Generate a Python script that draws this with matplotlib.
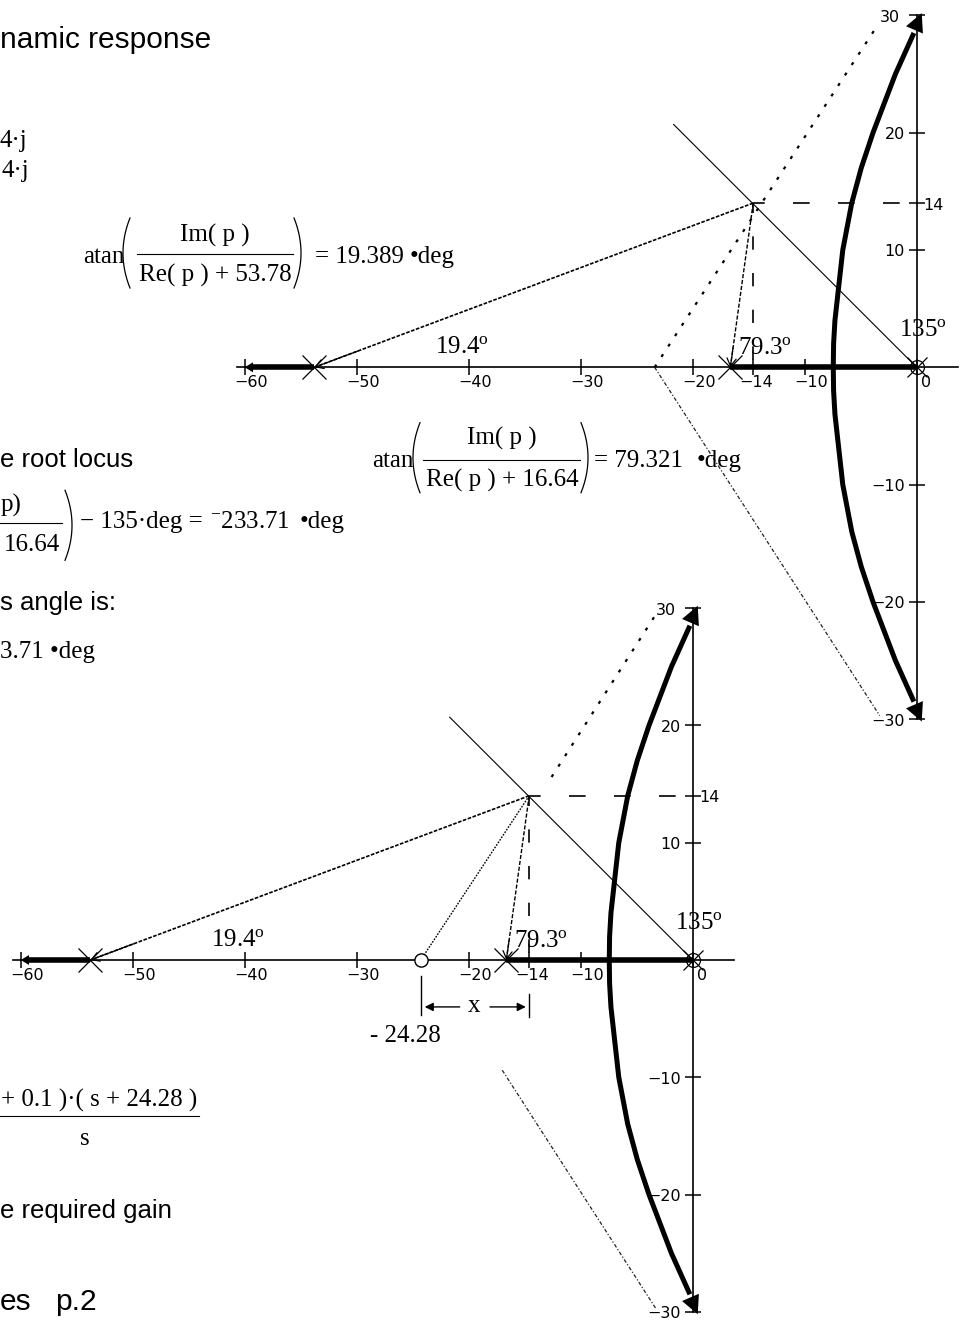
import numpy as np
import matplotlib
matplotlib.use("Agg")
import matplotlib.pyplot as plt
from matplotlib.lines import Line2D
from matplotlib.transforms import offset_copy

plt.rcParams['mathtext.fontset'] = 'custom'
plt.rcParams['mathtext.rm'] = 'Liberation Serif'
plt.rcParams['mathtext.it'] = 'Liberation Serif:italic'
plt.rcParams['mathtext.bf'] = 'Liberation Serif:bold'

W, H, DPI = 967, 1320, 100

# ---------------- data ----------------
open_loop_poles = [-53.78, -16.64, 0.0]
compensator_zero = -24.28
test_point = (-14.6, 14.0)          # p = -14 + 14j, as drawn
branch_im = [0.0, 2.0, 4.0, 7.0, 10.0, 14.0, 17.0, 20.0, 25.0, 28.5, 30.2]
branch_re = [-7.45, -7.42, -7.3, -6.95, -6.6, -5.8, -4.95, -3.9, -1.9, -0.25, 0.45]
left_axis_branch = [-53.78, -59.4]
right_axis_branch = [-16.64, 0.0]
asym_vertex = [-23.4, 0.0]
asym_upper_end = [-3.4, 29.3]
asym_lower_end = [-3.3, -29.7]
lower_plot_upper_asym_start = [-12.6, 15.6]
lower_plot_lower_asym_start = [-17.0, -9.4]
line135_far_end = [-21.7, 20.7]
x_ticks = [-60, -50, -40, -30, -20, -10, 0]
x_tick_labels = ['\u221260', '\u221250', '\u221240', '\u221230', '\u221220', '\u221210', '0']
y_ticks = [30, 20, 10, -10, -20, -30]
y_tick_labels = ['30', '20', '10', '\u221210', '\u221220', '\u221230']
marked_re_label = '\u221214'
marked_im_label = '14'
angle_labels = ['19.4', '79.3', '135']
angle_label_pos = [(-43.0, 1.2), (-16.0, 1.15), (-1.62, 2.65)]

SERIF = 'Liberation Serif'
SANS = 'Liberation Sans'
K = 'black'
TICKFONT = 11.5

fig = plt.figure(figsize=(W / DPI, H / DPI), dpi=DPI)
fig.patch.set_facecolor('white')

SX, SY = 11.2, 11.73   # pixels per unit (real, imaginary)


def locus_axes(ox, oy, xlim, ylim):
    l = ox + xlim[0] * SX
    r = ox + xlim[1] * SX
    t = oy - ylim[1] * SY
    b = oy - ylim[0] * SY
    ax = fig.add_axes([l / W, 1 - b / H, (r - l) / W, (b - t) / H])
    ax.set_xlim(*xlim)
    ax.set_ylim(*ylim)
    ax.set_axis_off()
    ax.patch.set_visible(False)
    return ax


def off(ax, dx, dy):
    return offset_copy(ax.transData, fig=fig, x=dx, y=dy, units='dots')


def small_head(ax, tip, tail, scale=11):
    ax.annotate('', xy=tip, xytext=tail,
                arrowprops=dict(arrowstyle='->,head_length=0.5,head_width=0.3',
                                color=K, lw=0.9, mutation_scale=scale,
                                shrinkA=0, shrinkB=0))


def draw_plot(ax, lower):
    pr, pi = test_point
    # axes lines
    ax.plot([-60.7, 3.7], [0, 0], color=K, lw=1.2, zorder=2)
    ax.plot([0, 0], [-30.0, 30.0], color=K, lw=1.2, zorder=2)
    # tick marks
    xt = x_ticks + [pr]
    ax.plot(xt, [0] * len(xt), ls='none', marker='|', ms=11, mew=1.1, color=K)
    yt = y_ticks + [pi]
    ax.plot([0] * len(yt), yt, ls='none', marker='_', ms=12, mew=1.1, color=K)
    # tick labels
    for t, lab in zip(x_ticks, x_tick_labels):
        dx = 9 if t == 0 else 6
        ax.text(t, 0, lab, transform=off(ax, dx, -8), ha='center', va='top',
                fontsize=TICKFONT, family='DejaVu Sans')
    ax.text(pr, 0, marked_re_label, transform=off(ax, 3, -8), ha='center', va='top',
            fontsize=TICKFONT, family='DejaVu Sans')
    for t, lab in zip(y_ticks, y_tick_labels):
        dx = -17 if t == 30 else -12
        ax.text(0, t, lab, transform=off(ax, dx, -2), ha='right', va='center',
                fontsize=TICKFONT, family='DejaVu Sans')
    ax.text(0, pi, marked_im_label, transform=off(ax, 7, -2), ha='left', va='center',
            fontsize=TICKFONT, family='DejaVu Sans')

    # root locus: real-axis parts
    ax.plot(left_axis_branch, [0, 0], color=K, lw=4, solid_capstyle='butt', zorder=3)
    ax.plot(right_axis_branch, [0, 0], color=K, lw=4, solid_capstyle='butt', zorder=3)
    ax.annotate('', xy=(-60.0, 0), xytext=(-58.0, 0),
                arrowprops=dict(arrowstyle='-|>,head_length=0.5,head_width=0.3',
                                color=K, lw=0, mutation_scale=12, shrinkA=0, shrinkB=0))
    # complex branches
    re = np.array(branch_re)
    im = np.array(branch_im)
    for s in (1, -1):
        ax.plot(re[:-1], s * im[:-1], color=K, lw=3.6, solid_capstyle='butt',
                solid_joinstyle='round', zorder=3)
        ax.annotate('', xy=(re[-1], s * im[-1]), xytext=(re[-3], s * im[-3]),
                    arrowprops=dict(arrowstyle='-|>,head_length=0.6,head_width=0.3',
                                    color=K, lw=0, mutation_scale=22,
                                    shrinkA=0, shrinkB=0), zorder=3)

    # asymptote-like dotted lines
    vx, vy = asym_vertex
    if not lower:
        ax.plot([vx, asym_upper_end[0]], [vy, asym_upper_end[1]], color=K, lw=1.6,
                ls=(0, (1.4, 4.2)))
        ax.plot([vx, asym_lower_end[0]], [vy, asym_lower_end[1]], color='#222222', lw=0.9,
                ls=(0, (3, 1.6, 1, 1.6)))
    else:
        ax.plot([lower_plot_upper_asym_start[0], asym_upper_end[0]],
                [lower_plot_upper_asym_start[1], asym_upper_end[1]], color=K, lw=1.6,
                ls=(0, (1.4, 4.2)))
        ax.plot([lower_plot_lower_asym_start[0], asym_lower_end[0]],
                [lower_plot_lower_asym_start[1], asym_lower_end[1]], color='#222222', lw=0.9,
                ls=(0, (3, 1.6, 1, 1.6)))

    # 135 degree line
    ax.plot([line135_far_end[0], 0], [line135_far_end[1], 0], color=K, lw=0.8)

    # lines from p to the poles (and zero)
    p1, p2 = open_loop_poles[0], open_loop_poles[1]
    ax.plot([pr, p1], [pi, 0], color=K, lw=1.2, ls=(0, (2.2, 0.9)))
    ax.plot([pr, p2], [pi, 0], color=K, lw=1.0, ls=(0, (3, 1.3)))
    small_head(ax, (p1, 0), (p1 + 0.1 * (pr - p1), 0.1 * pi))
    small_head(ax, (p2, 0), (p2 + 0.12 * (pr - p2), 0.12 * pi))
    if lower:
        cz = compensator_zero
        ax.plot([pr, cz], [pi, 0], color=K, lw=1.0, ls=(0, (1.2, 1.0)))

    # guides from p
    ax.plot([pr, pr], [pi, 0], color=K, lw=1.2, ls=(2, (8, 14)))
    ax.plot([pr, 0], [pi, pi], color=K, lw=1.2, ls=(3, (10, 17)))

    # poles / zeros
    ax.plot([p1, p2], [0, 0], ls='none', marker='x', ms=17, mew=0.9, color=K, zorder=4)
    ax.plot([0], [0], ls='none', marker='x', ms=14, mew=0.9, color=K, zorder=4)
    ax.plot([0], [0], ls='none', marker='o', ms=10, mew=0.9, mfc='none', mec=K, zorder=4)
    if lower:
        ax.plot([compensator_zero], [0], ls='none', marker='o', ms=9.5, mew=1.0,
                mfc='white', mec=K, zorder=4)

    # angle labels
    for lab, (x, y) in zip(angle_labels, angle_label_pos):
        ax.text(x, y, lab + r'$^{\mathrm{o}}$', fontsize=18, family=SERIF,
                ha='left', va='baseline')

    if lower:
        cz = compensator_zero
        ax.plot([cz, cz], [-1.4, -4.7], color=K, lw=1.0)
        ax.plot([pr, pr], [-2.9, -4.9], color=K, lw=1.0)
        ax.annotate('', xy=(cz + 0.35, -4.0), xytext=(-20.8, -4.0),
                    arrowprops=dict(arrowstyle='-|>,head_length=0.5,head_width=0.25',
                                    color=K, lw=1.0, mutation_scale=10, shrinkA=0, shrinkB=0))
        ax.annotate('', xy=(pr - 0.3, -4.0), xytext=(-18.1, -4.0),
                    arrowprops=dict(arrowstyle='-|>,head_length=0.5,head_width=0.25',
                                    color=K, lw=1.0, mutation_scale=10, shrinkA=0, shrinkB=0))
        ax.text(-19.5, -4.4, 'x', fontsize=18, family=SERIF, ha='center', va='baseline')


ax_top = locus_axes(916.7, 367.3, (-62.0, 4.4), (-31.3, 31.3))
draw_plot(ax_top, lower=False)
ax_bot = locus_axes(692.7, 960.0, (-62.0, 4.0), (-31.5, 31.5))
draw_plot(ax_bot, lower=True)


# ---------------- page text ----------------
def ftext(x, y, s, size, family, ha='left', va='baseline'):
    fig.text(x / W, 1 - y / H, s, fontsize=size, family=family, ha=ha, va=va)


def fline(x0, x1, y, lw=0.8):
    fig.add_artist(Line2D([x0 / W, x1 / W], [1 - y / H, 1 - y / H],
                          transform=fig.transFigure, color=K, lw=lw))


def paren(xmid, ytop, ybot, width, left=True):
    t = np.linspace(-1, 1, 60)
    ym = (ytop + ybot) / 2.0
    hh = (ybot - ytop) / 2.0
    ys = ym + t * hh
    xs = xmid + (width if left else -width) * t ** 2
    fig.add_artist(Line2D(xs / W, 1 - ys / H, transform=fig.transFigure, color=K, lw=0.9))


ftext(0, 48.3, 'namic response', 21.5, SANS)
ftext(0, 147, '4\u00b7j', 18, SERIF)
ftext(2, 177, '4\u00b7j', 18, SERIF)

# formula 1
B = 263
ftext(83, B, 'atan', 18, SERIF)
paren(123, B - 45, B + 25, 7, left=True)
ftext(215, B - 21, 'Im( p )', 18, SERIF, ha='center')
fline(137, 293, B - 9)
ftext(215, B + 19, 'Re( p ) + 53.78', 18, SERIF, ha='center')
paren(301, B - 45, B + 25, 7, left=False)
ftext(315, B, '= 19.389', 18, SERIF)
ftext(410, B, '\u2022deg', 18, SERIF)

# formula 2
B = 466.7
ftext(372, B, 'atan', 18, SERIF)
paren(413, B - 44, B + 26, 7, left=True)
ftext(502, B - 22, 'Im( p )', 18, SERIF, ha='center')
fline(423, 580, B - 7)
ftext(502, B + 20, 'Re( p ) + 16.64', 18, SERIF, ha='center')
paren(588, B - 44, B + 26, 7, left=False)
ftext(594, B, '= 79.321', 18, SERIF)
ftext(697, B, '\u2022deg', 18, SERIF)

ftext(0, 466.7, 'e root locus', 18.5, SANS)

# formula 3 (only the visible right part of the page)
B = 528.3
ftext(1, B - 17, 'p)', 18, SERIF, ha='left')
fline(0, 62, B - 5)
ftext(60, B + 23, '16.64', 18, SERIF, ha='right')
paren(72, B - 38, B + 32, 7, left=False)
ftext(80, B, '\u2212 135\u00b7deg =', 18, SERIF)
ftext(210, B, '$^{-}$233.71', 18, SERIF)
ftext(300, B, '\u2022deg', 18, SERIF)

ftext(0, 610, 's angle is:', 18.5, SANS)
ftext(0, 658, '3.71 \u2022deg', 18, SERIF)

ftext(370, 1041.7, '- 24.28', 18, SERIF)

# formula 4 (visible part)
ftext(197, 1106.7, '+ 0.1 )\u00b7( s + 24.28 )', 18, SERIF, ha='right')
fline(0, 199, 1115.7)
ftext(85, 1145, 's', 18, SERIF, ha='center')

ftext(0, 1218, 'e required gain', 18.5, SANS)
ftext(0, 1310, 'es', 21.5, SANS)
ftext(55, 1310, 'p.2', 21.5, SANS)

fig.savefig('out.png', dpi=DPI, facecolor='white')
